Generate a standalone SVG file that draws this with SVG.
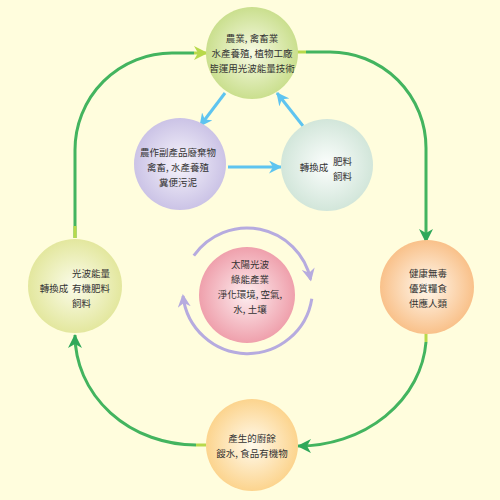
<svg xmlns="http://www.w3.org/2000/svg" width="500" height="500" viewBox="0 0 500 500">
<style>
text{font-family:"Noto Sans CJK TC","Noto Sans CJK SC",sans-serif;font-size:9.5px;fill:#333;text-anchor:middle}
.g{fill:none;stroke:#43B45F;stroke-width:3}
.gy{fill:none;stroke:#B8D94B;stroke-width:3}
.b{fill:none;stroke:#5EC4F0;stroke-width:3}
.p{fill:none;stroke:#B6ABDF;stroke-width:3}
.l{text-anchor:start}
</style>
<defs>
<radialGradient id="gTop" cx="50%" cy="50%" r="50%"><stop offset="0" stop-color="#F7FAE4"/><stop offset="1" stop-color="#CADF8E"/></radialGradient>
<radialGradient id="gPur" cx="50%" cy="50%" r="50%"><stop offset="0" stop-color="#F6F4FB"/><stop offset="1" stop-color="#CBC3E6"/></radialGradient>
<radialGradient id="gBlu" cx="50%" cy="50%" r="50%"><stop offset="0" stop-color="#FCFEFD"/><stop offset="1" stop-color="#D2E6DA"/></radialGradient>
<radialGradient id="gPink" cx="50%" cy="50%" r="50%"><stop offset="0" stop-color="#FDEEF0"/><stop offset="1" stop-color="#EFA0AC"/></radialGradient>
<radialGradient id="gLeft" cx="50%" cy="50%" r="50%"><stop offset="0" stop-color="#FBFCEA"/><stop offset="1" stop-color="#E3E79E"/></radialGradient>
<radialGradient id="gRight" cx="50%" cy="50%" r="50%"><stop offset="0" stop-color="#FFF8EE"/><stop offset="1" stop-color="#F9C18A"/></radialGradient>
<radialGradient id="gBot" cx="50%" cy="50%" r="50%"><stop offset="0" stop-color="#FFFAEC"/><stop offset="1" stop-color="#FCD48E"/></radialGradient>
<marker id="mg" markerUnits="userSpaceOnUse" markerWidth="14" markerHeight="14" viewBox="0 0 14 14" refX="13" refY="7" orient="auto"><path d="M0,0 L14,7 L0,14 L4,7 Z" fill="#2FA85A"/></marker>
<marker id="mgy" markerUnits="userSpaceOnUse" markerWidth="14" markerHeight="14" viewBox="0 0 14 14" refX="13" refY="7" orient="auto"><path d="M0,0 L14,7 L0,14 L4,7 Z" fill="#B8D94B"/></marker>
<marker id="mb" markerUnits="userSpaceOnUse" markerWidth="13" markerHeight="13" viewBox="0 0 13 13" refX="12" refY="6.5" orient="auto"><path d="M0,0 L13,6.5 L0,13 L4,6.5 Z" fill="#5EC4F0"/></marker>
<marker id="mp" markerUnits="userSpaceOnUse" markerWidth="13" markerHeight="13" viewBox="0 0 13 13" refX="11" refY="6.5" orient="auto"><path d="M0,0 L13,6.5 L0,13 L4,6.5 Z" fill="#B6ABDF"/></marker>
</defs>
<rect width="500" height="500" fill="#FFFDDD"/>
<g id="connectors">
<path class="g" d="M75,238 L75,150 A97,97 0 0 1 172,53 L194,53"/>
<path class="gy" d="M194,53 L207,53" marker-end="url(#mgy)"/>
<path class="gy" d="M75,238 L75,226"/>
<path class="g" d="M306,52 L330,52 A96,96 0 0 1 426,148 L426,242" marker-end="url(#mg)"/>
<path class="gy" d="M297,52 L306,52"/>
<path class="g" d="M426,342 A128,112 0 0 1 298,446" marker-end="url(#mg)"/>
<path class="gy" d="M426,333 L426,342"/>
<path class="g" d="M196,445 A121,110 0 0 1 75,335" marker-end="url(#mg)"/>
<path class="gy" d="M206,445 L196,445"/>
<path class="b" d="M225,93 L200,126" marker-end="url(#mb)"/>
<path class="b" d="M228,167 L281,167" marker-end="url(#mb)"/>
<path class="b" d="M303,126 L277,93" marker-end="url(#mb)"/>
<path class="p" d="M193.8,255.7 A65,65 0 0 1 310.6,279.5" marker-end="url(#mp)"/>
<path class="p" d="M311.8,298.7 A65,65 0 0 1 183,296" marker-end="url(#mp)"/>
</g>
<g id="n-top">
<circle cx="252" cy="53" r="46" fill="url(#gTop)"/>
<text x="252" y="42">農業, 禽畜業</text>
<text x="252" y="57">水產養殖, 植物工廠</text>
<text x="252" y="72">皆運用光波能量技術</text>
</g>
<g id="n-purple">
<circle cx="180" cy="164" r="46" fill="url(#gPur)"/>
<text x="178" y="156">農作副產品廢棄物</text>
<text x="178" y="171">禽畜, 水產養殖</text>
<text x="178" y="186">糞便污泥</text>
</g>
<g id="n-blue">
<circle cx="327" cy="165" r="46" fill="url(#gBlu)"/>
<text x="314" y="171">轉換成</text>
<text class="l" x="333" y="165">肥料</text>
<text class="l" x="333" y="180">飼料</text>
</g>
<g id="n-center">
<circle cx="247" cy="295" r="48" fill="url(#gPink)"/>
<text x="250" y="268">太陽光波</text>
<text x="250" y="283">綠能產業</text>
<text x="250" y="298">淨化環境, 空氣,</text>
<text x="250" y="313">水, 土壤</text>
</g>
<g id="n-left">
<circle cx="75" cy="286" r="47" fill="url(#gLeft)"/>
<text class="l" x="72" y="277">光波能量</text>
<text x="54" y="292">轉換成</text>
<text class="l" x="72" y="292">有機肥料</text>
<text class="l" x="72" y="307">飼料</text>
</g>
<g id="n-right">
<circle cx="427" cy="287" r="47" fill="url(#gRight)"/>
<text x="428" y="277">健康無毒</text>
<text x="428" y="292">優質糧食</text>
<text x="428" y="307">供應人類</text>
</g>
<g id="n-bottom">
<circle cx="252" cy="445" r="46" fill="url(#gBot)"/>
<text x="252" y="442">產生的廚餘</text>
<text x="252" y="457">餿水, 食品有機物</text>
</g>
</svg>
